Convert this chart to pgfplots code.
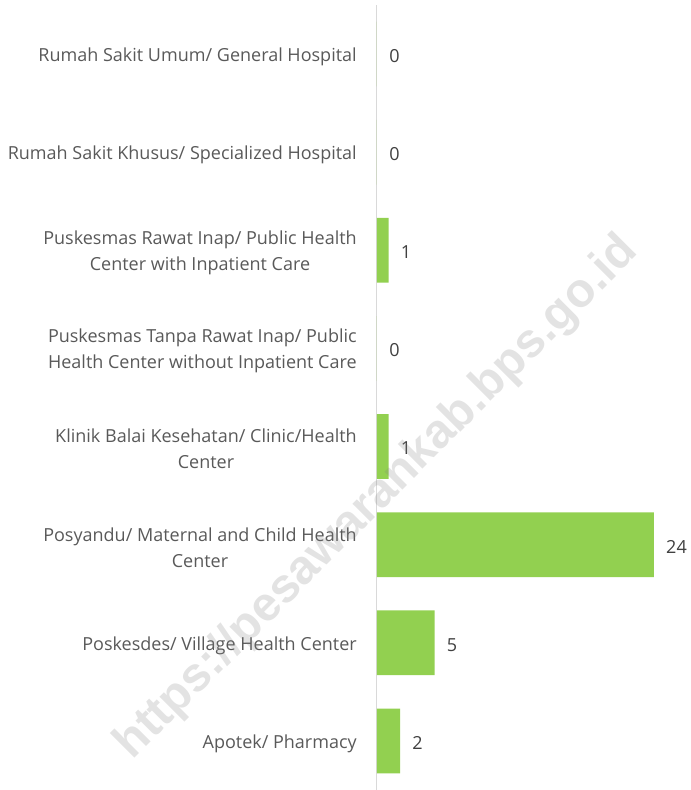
\documentclass[border=0pt]{standalone}
\usepackage{pgfplots}
\pgfplotsset{compat=1.18}
\usepackage{fontspec}
\setmainfont{Open Sans}
\newfontfamily\wmfont{Liberation Sans}
\definecolor{bargreen}{RGB}{146,208,80}
\definecolor{labelgray}{RGB}{89,89,89}
\definecolor{valgray}{RGB}{64,64,64}
\definecolor{axisgray}{RGB}{217,217,217}

\begin{document}
\begin{tikzpicture}
  % 1 px of the reference = 0.75pt
  \useasboundingbox (0pt,0pt) rectangle (517.5pt,592.5pt);
  \begin{axis}[
    at={(282.75pt,0pt)}, anchor=south west,
    scale only axis,
    width=233.7pt, height=588.75pt,
    xmin=0, xmax=27,
    ymin=-0.5, ymax=7.5,
    y dir=reverse,
    axis x line=none,
    axis y line*=left,
    axis line style={axisgray, line width=0.75pt, -},
    ytick={0,...,7},
    major tick length=0pt,
    yticklabels={
      {Rumah Sakit Umum/ General Hospital},
      {Rumah Sakit Khusus/ Specialized Hospital},
      {Puskesmas Rawat Inap/ Public Health\\Center with Inpatient Care},
      {Puskesmas Tanpa Rawat Inap/ Public\\Health Center without Inpatient Care},
      {Klinik Balai Kesehatan/ Clinic/Health\\Center},
      {Posyandu/ Maternal and Child Health\\Center},
      {Poskesdes/ Village Health Center},
      {Apotek/ Pharmacy}},
    yticklabel style={font=\fontsize{13.5}{19.5}\selectfont, text=labelgray,
      align=center, anchor=east, inner sep=0pt, xshift=-15pt, yshift=-2pt},
    clip=false,
    point meta=x,
    nodes near coords,
    /pgf/number format/assume math mode=true,
    every node near coord/.append style={font=\fontsize{13.5}{16}\selectfont,
      text=valgray, anchor=west, inner sep=0pt, xshift=9pt, yshift=-1.5pt},
  ]
    \addplot[xbar, bar width=0.66, fill=bargreen, draw=none]
      coordinates {(0,0) (0,1) (1,2) (0,3) (1,4) (24,5) (5,6) (2,7)};
  \end{axis}
  \node[rotate=45, text=gray, opacity=0.22, font=\wmfont\bfseries\fontsize{36}{40}\selectfont]
    at (283pt,219pt) {https://pesawarankab.bps.go.id};
\end{tikzpicture}
\end{document}
